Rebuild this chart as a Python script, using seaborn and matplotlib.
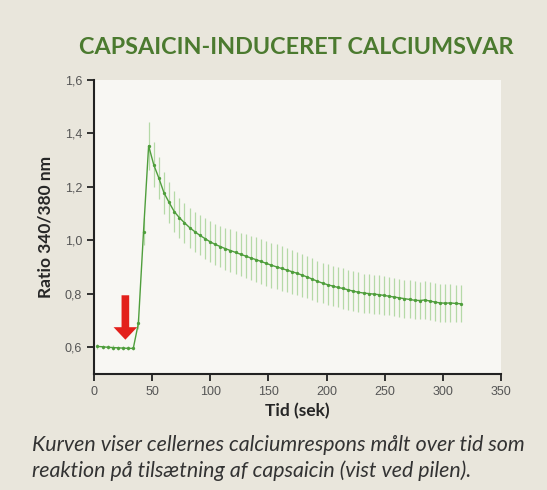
import seaborn as sns
import matplotlib.pyplot as plt
import pandas as pd

# time points (s) and mean ratio 340/380 with error
tid = [3.0, 7.4, 11.8, 16.2, 20.6, 25.0, 29.4, 33.8, 38.2, 42.6,
       47.0, 51.4, 55.8, 60.2, 64.6, 69.0, 73.4, 77.8, 82.2, 86.6,
       91.0, 95.4, 99.8, 104.2, 108.6, 113.0, 117.4, 121.8, 126.2, 130.6,
       135.0, 139.4, 143.8, 148.2, 152.6, 157.0, 161.4, 165.8, 170.2, 174.6,
       179.0, 183.4, 187.8, 192.2, 196.6, 201.0, 205.4, 209.8, 214.2, 218.6,
       223.0, 227.4, 231.8, 236.2, 240.6, 245.0, 249.4, 253.8, 258.2, 262.6,
       267.0, 271.4, 275.8, 280.2, 284.6, 289.0, 293.4, 297.8, 302.2, 306.6,
       311.0, 315.4]
ratio = [0.603, 0.602, 0.600, 0.599, 0.598, 0.597, 0.596, 0.596, 0.690, 1.032,
         1.354, 1.283, 1.233, 1.178, 1.142, 1.108, 1.085, 1.066, 1.048, 1.033,
         1.019, 1.007, 0.995, 0.985, 0.977, 0.969, 0.962, 0.955, 0.948, 0.941,
         0.934, 0.928, 0.921, 0.914, 0.907, 0.901, 0.895, 0.889, 0.883, 0.877,
         0.870, 0.863, 0.855, 0.847, 0.840, 0.834, 0.829, 0.824, 0.820, 0.815,
         0.810, 0.806, 0.803, 0.801, 0.799, 0.797, 0.794, 0.791, 0.788, 0.785,
         0.782, 0.779, 0.776, 0.775, 0.777, 0.773, 0.769, 0.766, 0.765, 0.766,
         0.764, 0.763]
fejl = [0.008, 0.008, 0.008, 0.008, 0.008, 0.008, 0.008, 0.008, 0.02, 0.05,
        0.09, 0.085, 0.08, 0.078, 0.076, 0.075, 0.075, 0.075, 0.075, 0.075,
        0.075, 0.075, 0.076, 0.077, 0.078, 0.079, 0.08, 0.08, 0.081, 0.082,
        0.082, 0.083, 0.083, 0.084, 0.084, 0.084, 0.084, 0.083, 0.082, 0.081,
        0.08, 0.079, 0.078, 0.077, 0.076, 0.076, 0.075, 0.075, 0.075, 0.074,
        0.074, 0.074, 0.073, 0.073, 0.073, 0.072, 0.072, 0.072, 0.072, 0.071,
        0.071, 0.071, 0.071, 0.07, 0.07, 0.07, 0.07, 0.07, 0.07, 0.07,
        0.07, 0.07]

df = pd.DataFrame({"tid": tid, "ratio": ratio, "fejl": fejl})

bg = "#e9e6dc"
green = "#4f9e3c"

sns.set_style("ticks")
plt.rcParams['font.family'] = ['Liberation Sans', 'DejaVu Sans']

fig = plt.figure(figsize=(5.47, 4.90), dpi=100, facecolor=bg)
ax = fig.add_axes([0.1718, 0.2367, 0.744, 0.60])
ax.set_facecolor("#f8f7f3")

ax.errorbar(df["tid"], df["ratio"], yerr=df["fejl"], fmt="none",
            ecolor="#9fcf8e", elinewidth=0.9, alpha=0.75, capsize=0, zorder=2)
sns.lineplot(data=df, x="tid", y="ratio", ax=ax, color=green, lw=1.0,
             marker="o", markersize=2.4, markeredgewidth=0, zorder=3)

# red arrow marking capsaicin addition
ax.annotate("", xy=(27, 0.618), xytext=(27, 0.805),
            arrowprops=dict(arrowstyle="simple,head_width=1.7,head_length=0.9,tail_width=0.55",
                            color="#e3201b", lw=0))

ax.set_xlim(0, 350)
ax.set_ylim(0.5, 1.6)
ax.set_xticks([0, 50, 100, 150, 200, 250, 300, 350])
ax.set_yticks([0.6, 0.8, 1.0, 1.2, 1.4, 1.6])
ax.set_yticklabels(["0,6", "0,8", "1,0", "1,2", "1,4", "1,6"])
ax.tick_params(labelsize=9, labelcolor="#555555", length=5, width=1.3, color="#222222")
for s in ["top", "right"]:
    ax.spines[s].set_visible(False)
for s in ["left", "bottom"]:
    ax.spines[s].set_linewidth(1.5)
    ax.spines[s].set_color("#222222")

ax.set_xlabel("Tid (sek)", fontsize=12.5, fontweight="bold", family=["Lato"], labelpad=4)
ax.set_ylabel("Ratio 340/380 nm", fontsize=12.5, fontweight="bold", family=["Lato"], labelpad=8)

fig.text(0.542, 0.904, "CAPSAICIN-INDUCERET CALCIUMSVAR", ha="center", va="center",
         fontsize=16.8, fontweight="bold", color="#4b7a2f", family=["Lato"])
fig.text(0.058, 0.092, "Kurven viser cellernes calciumrespons målt over tid som",
         fontsize=15.4, style="italic", color="#333333", family=["Lato"], va="center")
fig.text(0.058, 0.040, "reaktion på tilsætning af capsaicin (vist ved pilen).",
         fontsize=15.4, style="italic", color="#333333", family=["Lato"], va="center")

plt.savefig("out.png", dpi=100, facecolor=bg)
